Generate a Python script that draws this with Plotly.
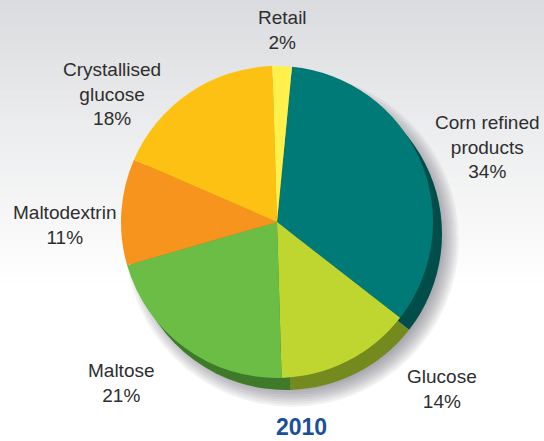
import plotly.graph_objects as go

W, H = 544, 441

# ---- data ----
categories = ["Corn refined<br>products", "Glucose", "Maltose", "Maltodextrin",
              "Crystallised<br>glucose", "Retail"]
values = [34, 14, 21, 11, 18, 2]
year_title = "2010"

# ---- styles ----
colors = ["#007A77", "#BED62F", "#6CBD45", "#F7941D", "#FDC113", "#FFF04B"]
dark_colors = ["#004D49", "#748A1E", "#3E7A2A", "#B86A10", "#B88A0A", "#B8AA30"]
label_pos = [(487, 147), (442, 389), (121, 383), (65, 225), (112, 94), (282, 30)]

cx, cy, r = 277, 222, 156
off_x, off_y = 9, 12
rotation = 5.5

def dom(cx_, cy_, r_):
    return dict(x=[(cx_ - r_) / W, (cx_ + r_) / W],
                y=[(H - cy_ - r_) / H, (H - cy_ + r_) / H])

shapes = []
# background vertical gradient
n = 70
top = (218, 219, 222)
gh = 290
for i in range(n):
    y0 = i * gh / n
    y1 = (i + 1) * gh / n + 0.6
    t = (i / (n - 1)) ** 0.9
    c = tuple(int(round(top[k] + (255 - top[k]) * t)) for k in range(3))
    shapes.append(dict(type="rect", xref="paper", yref="paper", layer="below",
                       x0=0, x1=1, y0=1 - y1 / H, y1=1 - y0 / H,
                       fillcolor="rgb(%d,%d,%d)" % c, line=dict(width=0)))
# soft drop shadow under the pie (toward bottom-right)
for k in range(10):
    rr = r - 10 + k * 2.3
    sx, sy = cx + 15, cy + 18
    shapes.append(dict(type="circle", xref="paper", yref="paper", layer="below",
                       x0=(sx - rr) / W, x1=(sx + rr) / W,
                       y0=(H - sy - rr) / H, y1=(H - sy + rr) / H,
                       fillcolor="rgba(80,80,90,0.075)", line=dict(width=0)))

fig = go.Figure()
# extrusion (darker copy, offset)
fig.add_trace(go.Pie(
    labels=categories, values=values, sort=False, direction="clockwise",
    rotation=rotation, domain=dom(cx + off_x, cy + off_y, r),
    marker=dict(colors=dark_colors, line=dict(width=0)),
    textinfo="none", hoverinfo="skip", showlegend=False))
# main pie
fig.add_trace(go.Pie(
    labels=categories, values=values, sort=False, direction="clockwise",
    rotation=rotation, domain=dom(cx, cy, r),
    marker=dict(colors=colors, line=dict(width=0)),
    textinfo="none", showlegend=False))

total = sum(values)
annotations = []
for lab, v, (px, py) in zip(categories, values, label_pos):
    annotations.append(dict(
        text=f"{lab}<br>{round(100 * v / total)}%", x=px / W, y=1 - py / H,
        xref="paper", yref="paper", xanchor="center", yanchor="middle",
        showarrow=False, font=dict(family="Liberation Sans, Arial", size=19, color="#2E2E2E")))
annotations.append(dict(
    text=f"<b>{year_title}</b>", x=301 / W, y=1 - 427 / H, xref="paper", yref="paper",
    xanchor="center", yanchor="middle", showarrow=False,
    font=dict(family="Liberation Sans, Arial", size=23, color="#1A4F9B")))

fig.update_layout(width=W, height=H, margin=dict(l=0, r=0, t=0, b=0),
                  paper_bgcolor="white", plot_bgcolor="white",
                  shapes=shapes, annotations=annotations)
fig.write_html("out.html")
